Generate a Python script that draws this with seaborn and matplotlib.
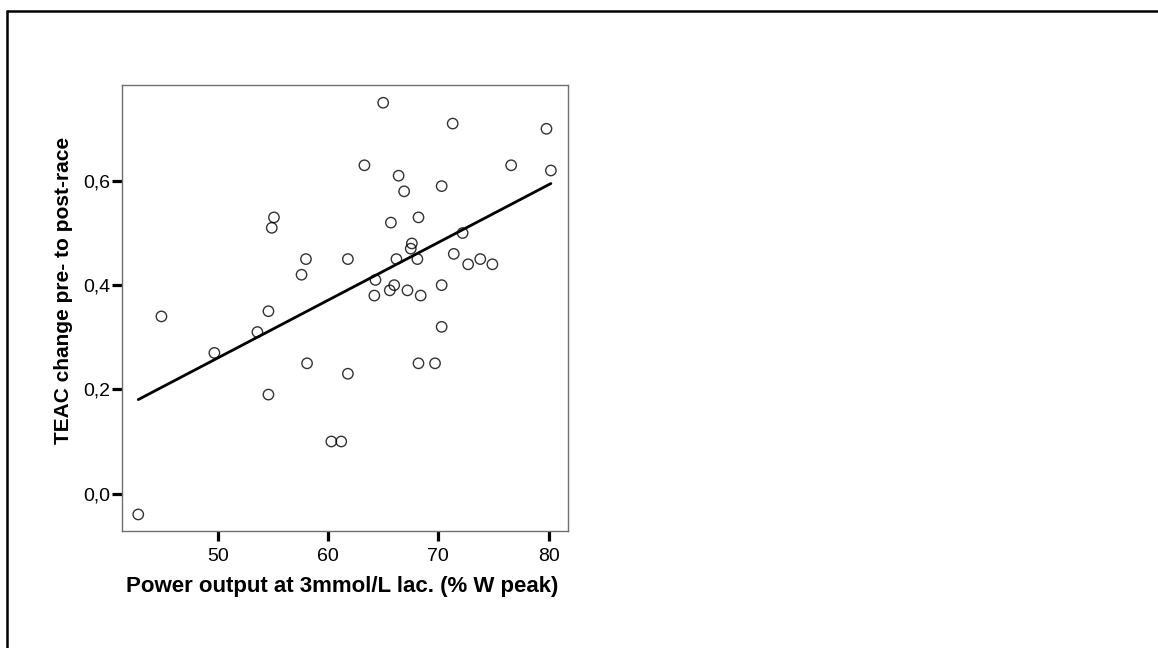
import matplotlib
matplotlib.use("Agg")
import matplotlib.pyplot as plt
from matplotlib.lines import Line2D
import seaborn as sns
import pandas as pd

# Power output at 3 mmol/L lactate (% of peak W) per athlete
power_pct = [42.8, 44.9, 49.7, 53.6, 54.6, 54.6, 54.9, 55.1, 57.6, 58.0,
             58.1, 60.3, 61.2, 61.8, 61.8, 63.3, 64.2, 64.3, 65.0, 65.6,
             65.7, 66.0, 66.2, 66.4, 66.9, 67.2, 67.5, 67.6, 68.1, 68.2,
             68.2, 68.4, 69.7, 70.3, 70.3, 70.3, 71.3, 71.4, 72.2, 72.7,
             73.8, 74.9, 76.6, 79.8, 80.2]
# TEAC change from pre- to post-race
teac_change = [-0.04, 0.34, 0.27, 0.31, 0.35, 0.19, 0.51, 0.53, 0.42, 0.45,
               0.25, 0.10, 0.10, 0.45, 0.23, 0.63, 0.38, 0.41, 0.75, 0.39,
               0.52, 0.40, 0.45, 0.61, 0.58, 0.39, 0.47, 0.48, 0.45, 0.53,
               0.25, 0.38, 0.25, 0.59, 0.40, 0.32, 0.71, 0.46, 0.50, 0.44,
               0.45, 0.44, 0.63, 0.70, 0.62]

x_ticks = [50, 60, 70, 80]
x_tick_labels = ["50", "60", "70", "80"]
y_ticks = [0.0, 0.2, 0.4, 0.6]
y_tick_labels = ["0,0", "0,2", "0,4", "0,6"]

x_title = "Power output at 3mmol/L lac. (% W peak)"
y_title = "TEAC change pre- to post-race"

df = pd.DataFrame({"power": power_pct, "teac": teac_change})

sns.set_theme(style="white")
plt.rcParams["font.family"] = ["Liberation Sans", "DejaVu Sans"]

fig = plt.figure(figsize=(11.58, 6.48), dpi=100)
ax = fig.add_axes([0.1051, 0.1810, 0.3851, 0.6878])

sns.regplot(
    data=df, x="power", y="teac", ax=ax, ci=None,
    scatter_kws=dict(s=56, facecolors="none", edgecolors="black",
                     linewidths=1.0, marker="o", zorder=3),
    line_kws=dict(color="black", lw=2.0, zorder=2),
)

ax.set_xlim(41.3, 81.72)
ax.set_ylim(-0.0712, 0.784)
ax.set_xticks(x_ticks)
ax.set_xticklabels(x_tick_labels)
ax.set_yticks(y_ticks)
ax.set_yticklabels(y_tick_labels)

ax.tick_params(axis="both", which="major", direction="out", length=7,
               width=2.3, color="black", labelsize=14, labelcolor="black",
               left=True, bottom=True)
ax.tick_params(axis="x", pad=5.5)
ax.tick_params(axis="y", pad=1.5)

for side in ["left", "right", "top", "bottom"]:
    ax.spines[side].set_visible(True)
    ax.spines[side].set_color("#707070")
    ax.spines[side].set_linewidth(1.0)

ax.set_xlabel(x_title, fontsize=16, fontweight="bold", color="black",
              va="baseline", ha="center")
ax.set_ylabel(y_title, fontsize=15, fontweight="bold", color="black",
              va="baseline", ha="center")
ax.xaxis.set_label_coords(0.494, -0.1375)
ax.yaxis.set_label_coords(-0.1175, 0.539)

# frame lines along the top and left edge of the figure
fig.add_artist(Line2D([6.5 / 1158, 1.0], [1 - 11 / 648, 1 - 11 / 648],
                      color="black", lw=1.8, transform=fig.transFigure))
fig.add_artist(Line2D([6.5 / 1158, 6.5 / 1158], [0.0, 1 - 11 / 648],
                      color="black", lw=1.8, transform=fig.transFigure))

fig.savefig("out.png", dpi=100, facecolor="white")
